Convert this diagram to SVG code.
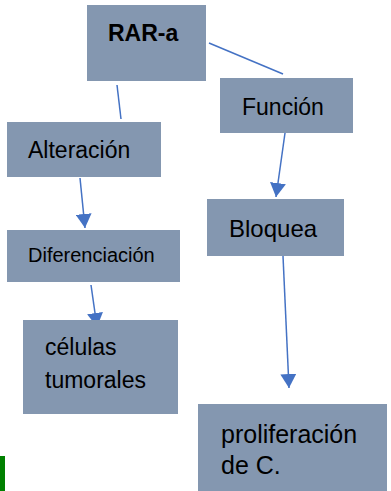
<svg xmlns="http://www.w3.org/2000/svg" width="391" height="491" viewBox="0 0 391 491">
<style>
.box{fill:#8497B0;}
.t{font-family:"Liberation Sans",Arial,sans-serif;fill:#000;}
.c{stroke:#4472C4;stroke-width:1.5;fill:none;}
</style>
<defs>
<marker id="ah" viewBox="0 0 14 16" markerWidth="14" markerHeight="16" refX="14" refY="8" orient="auto" markerUnits="userSpaceOnUse">
<path d="M0,0 L14,8 L0,16 z" fill="#4472C4"/>
</marker>
</defs>
<rect width="391" height="491" fill="#fff"/>
<g id="connectors">
<line class="c" x1="209" y1="43" x2="283" y2="74"/>
<line class="c" x1="117" y1="85" x2="121" y2="119"/>
<line class="c" x1="80" y1="178" x2="85" y2="228" marker-end="url(#ah)"/>
<line class="c" x1="91" y1="285" x2="97" y2="327" marker-end="url(#ah)"/>
<line class="c" x1="285" y1="133" x2="276" y2="197" marker-end="url(#ah)"/>
<line class="c" x1="283" y1="256" x2="289" y2="388" marker-end="url(#ah)"/>
</g>
<g id="rar">
<rect class="box" x="87" y="5" width="119" height="76"/>
<text class="t" x="108" y="41" font-size="23" font-weight="bold">RAR-a</text>
</g>
<g id="funcion">
<rect class="box" x="220" y="78" width="133" height="55"/>
<text class="t" x="242" y="115" font-size="23">Función</text>
</g>
<g id="alteracion">
<rect class="box" x="7" y="122" width="154" height="55"/>
<text class="t" x="28" y="158" font-size="23">Alteración</text>
</g>
<g id="bloquea">
<rect class="box" x="207" y="199" width="137" height="57"/>
<text class="t" x="229" y="237" font-size="24">Bloquea</text>
</g>
<g id="diferenciacion">
<rect class="box" x="7" y="230" width="173" height="52"/>
<text class="t" x="28" y="262" font-size="20">Diferenciación</text>
</g>
<g id="celulas">
<rect class="box" x="23" y="320" width="155" height="94"/>
<text class="t" x="45" y="355" font-size="23">células</text>
<text class="t" x="45" y="388" font-size="23">tumorales</text>
</g>
<g id="proliferacion">
<rect class="box" x="198" y="404" width="189" height="87"/>
<text class="t" x="221" y="443" font-size="25">proliferación</text>
<text class="t" x="221" y="474" font-size="25">de C.</text>
</g>
<rect x="0" y="456" width="5" height="35" fill="#008000"/>
</svg>
